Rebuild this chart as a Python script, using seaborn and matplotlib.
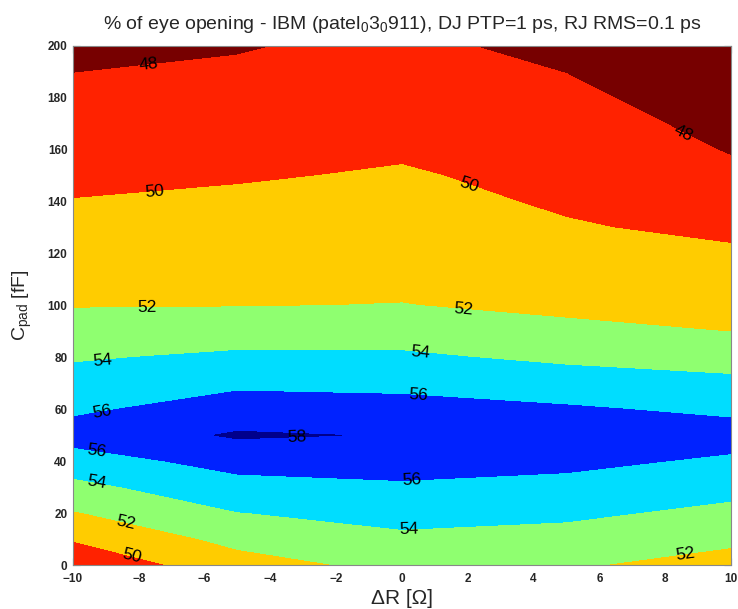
import numpy as np
import matplotlib
matplotlib.use("Agg")
import matplotlib.pyplot as plt
import seaborn as sns

# ---- data ----
delta_r = [-10, -5, 0, 5, 10]                      # ΔR [Ω]
c_pad = [0, 10, 20, 30, 40, 50, 60, 70, 80, 90, 100,
         110, 120, 130, 140, 150, 160, 170, 180, 190, 200]  # C_pad [fF]

# % eye opening, one list per ΔR column (bottom -> top in C_pad)
eye_r_m10 = [48.43, 50.14, 51.85, 53.44, 55.07, 56.80, 55.67, 54.74, 53.80, 52.80, 51.91,
             51.44, 50.98, 50.51, 50.05, 49.63, 49.22, 48.80, 48.39, 47.98, 47.57]
eye_r_m5 = [51.17, 52.55, 53.93, 55.28, 56.71, 58.20, 56.90, 55.62, 54.34, 53.08, 51.94,
            51.52, 51.10, 50.69, 50.27, 49.86, 49.46, 49.06, 48.66, 48.26, 47.86]
eye_r_0 = [52.56, 53.61, 54.66, 55.72, 56.82, 57.885, 56.70, 55.48, 54.29, 53.16, 52.04,
           51.64, 51.27, 50.90, 50.52, 50.15, 49.80, 49.48, 49.15, 48.83, 48.50]
eye_r_p5 = [52.22, 53.29, 54.36, 55.43, 56.45, 57.40, 56.22, 54.92, 53.61, 52.37, 51.65,
            51.14, 50.64, 50.14, 49.78, 49.55, 49.32, 48.87, 48.42, 47.97, 47.35]
eye_r_p10 = [51.20, 52.39, 53.49, 54.59, 55.69, 56.75, 55.62, 54.42, 53.19, 51.98, 51.40,
             50.81, 50.23, 49.64, 49.04, 48.40, 47.88, 47.43, 46.98, 46.53, 46.08]

levels = [48, 50, 52, 54, 56, 58]
x_ticks = [-10, -8, -6, -4, -2, 0, 2, 4, 6, 8, 10]
y_ticks = [0, 20, 40, 60, 80, 100, 120, 140, 160, 180, 200]

# label anchor positions (ΔR, C_pad)
label_pos = [(-7.7, 192), (8.5, 165), (-7.5, 143), (2.0, 145), (-7.75, 97), (1.85, 97),
             (-9.1, 77), (0.55, 82), (-9.1, 58.5), (0.5, 65), (-3.2, 49.5),
             (-9.3, 44), (0.3, 32.5), (-9.3, 31), (0.2, 14), (-8.4, 16),
             (8.6, 4.5), (-8.2, 3.5)]

band_colors = ["#770000", "#FF2200", "#FFCC00", "#8FFF70", "#00DDFF", "#0022FF", "#00008C"]

# ---- plotting ----
sns.set_style("ticks")
plt.rcParams["font.family"] = ["Liberation Sans", "DejaVu Sans"]
plt.rcParams["mathtext.fontset"] = "custom"
plt.rcParams["mathtext.rm"] = "Liberation Sans"
plt.rcParams["mathtext.it"] = "Liberation Sans:italic"

Z = np.array([eye_r_m10, eye_r_m5, eye_r_0, eye_r_p5, eye_r_p10]).T
X, Y = np.meshgrid(delta_r, c_pad)

fig = plt.figure(figsize=(7.38, 6.09), dpi=100)
ax = fig.add_axes([73 / 738, 1 - 565 / 609, 658 / 738, 519 / 609])

fill_levels = [min(40, Z.min())] + levels + [max(60, Z.max())]
ax.contourf(X, Y, Z, levels=fill_levels, colors=band_colors)
cs = ax.contour(X, Y, Z, levels=levels, colors="k", linewidths=0)
ax.clabel(cs, levels=levels, manual=label_pos, inline=False, fmt="%d",
          fontsize=12.5, colors="k")

ax.set_xlim(-10, 10)
ax.set_ylim(0, 200)
ax.set_xticks(x_ticks)
ax.set_yticks(y_ticks)
ax.tick_params(direction="in", length=5, width=0.8, top=True, right=True,
               labelsize=8.5, color="#333333")
ax.tick_params(axis="x", pad=6)
ax.tick_params(axis="y", pad=4)
for lab in ax.get_xticklabels() + ax.get_yticklabels():
    lab.set_fontweight("bold")
for sp in ax.spines.values():
    sp.set_visible(True)
    sp.set_linewidth(0.8)
    sp.set_color("#888888")

ax.set_xlabel("ΔR [Ω]", fontsize=15, labelpad=3)
ax.set_ylabel("C$_\\mathrm{pad}$ [fF]", fontsize=14, labelpad=10)
ax.set_title("% of eye opening - IBM (patel$_\\mathrm{0}$3$_\\mathrm{0}$911), DJ PTP=1 ps, RJ RMS=0.1 ps",
             fontsize=14, pad=12)

fig.savefig("out.png", dpi=100)
